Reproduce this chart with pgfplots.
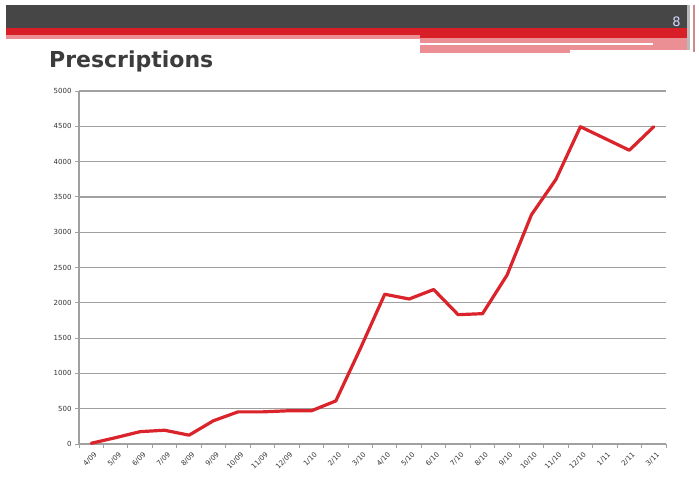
\documentclass[border=0pt]{standalone}
\usepackage{pgfplots}
\pgfplotsset{compat=1.18}
\usepackage{fontspec}
\setmainfont{DejaVu Sans}
\definecolor{darkbar}{RGB}{70,70,70}
\definecolor{redbar}{RGB}{216,31,39}
\definecolor{pinkbar}{RGB}{236,143,148}
\definecolor{gridgray}{RGB}{160,160,160}
\definecolor{titlegray}{RGB}{60,60,60}
\definecolor{linered}{RGB}{218,35,42}
\begin{document}
\begin{tikzpicture}[x=1pt,y=1pt]
\fill[white] (0,0) rectangle (699,477);
% header
\fill[darkbar] (6,477-5) rectangle (690,477-28.3);
\fill[redbar] (6,477-28.3) rectangle (690,477-35);
\fill[redbar] (420,477-35) rectangle (690,477-38.3);
\fill[pinkbar] (6,477-35) rectangle (420,477-39.5);
\fill[pinkbar] (420,477-38.3) rectangle (690,477-42.7);
\fill[pinkbar] (420,477-45) rectangle (690,477-50);
\fill[pinkbar] (653,477-42.7) rectangle (690,477-45);
\fill[pinkbar] (420,477-50) rectangle (570,477-53);
\fill[gray!55] (687,477-5) rectangle (690,477-50);
\fill[pinkbar!70!gray] (693,477-5) rectangle (695,477-52);
\node[text=white!85!blue, font=\fontsize{13}{15}\selectfont] at (676.5,477-21.5) {8};
% title
\node[anchor=base west, inner sep=0pt, text=titlegray, font=\fontsize{22}{26}\selectfont\bfseries] at (49,477-67.7) {Prescriptions};
\begin{axis}[
  at={(79pt,33pt)}, anchor=south west,
  scale only axis, width=587pt, height=353pt,
  xmin=-0.5, xmax=23.5, ymin=0, ymax=5000,
  axis lines*=left,
  axis line style={gridgray, line width=1.2pt},
  ytick={0,500,...,5000},
  ymajorgrids,
  grid style={gridgray, line width=1.2pt},
  tick align=outside,
  major tick length=4pt,
  minor tick length=4pt,
  tick style={gridgray, line width=1pt},
  xtick={0,1,...,23},
  xticklabels={4/09,5/09,6/09,7/09,8/09,9/09,10/09,11/09,12/09,1/10,2/10,3/10,4/10,5/10,6/10,7/10,8/10,9/10,10/10,11/10,12/10,1/11,2/11,3/11},
  every major x tick/.style={draw=none},
  minor xtick={-0.5,0.5,...,23.5},
  x tick label style={rotate=45, anchor=east, inner sep=0.5pt, yshift=-7pt, xshift=0pt},
  ticklabel style={font=\fontsize{7}{8}\selectfont, text=black!80},
  /pgf/number format/assume math mode=true,
  /pgf/number format/1000 sep={},
  clip=false,
]
\addplot[linered, line width=3.2pt, line join=round, line cap=round] coordinates {
(0,10) (1,90) (2,175) (3,195) (4,125) (5,330) (6,455) (7,455) (8,470) (9,470) (10,610) (11,1350)
(12,2121) (13,2054) (14,2188) (15,1832) (16,1846) (17,2392) (18,3248) (19,3748) (20,4494) (21,4328) (22,4161) (23,4494)
};
\end{axis}
\pgfresetboundingbox
\path[use as bounding box] (0,0) rectangle (699,477);
\end{tikzpicture}
\end{document}
